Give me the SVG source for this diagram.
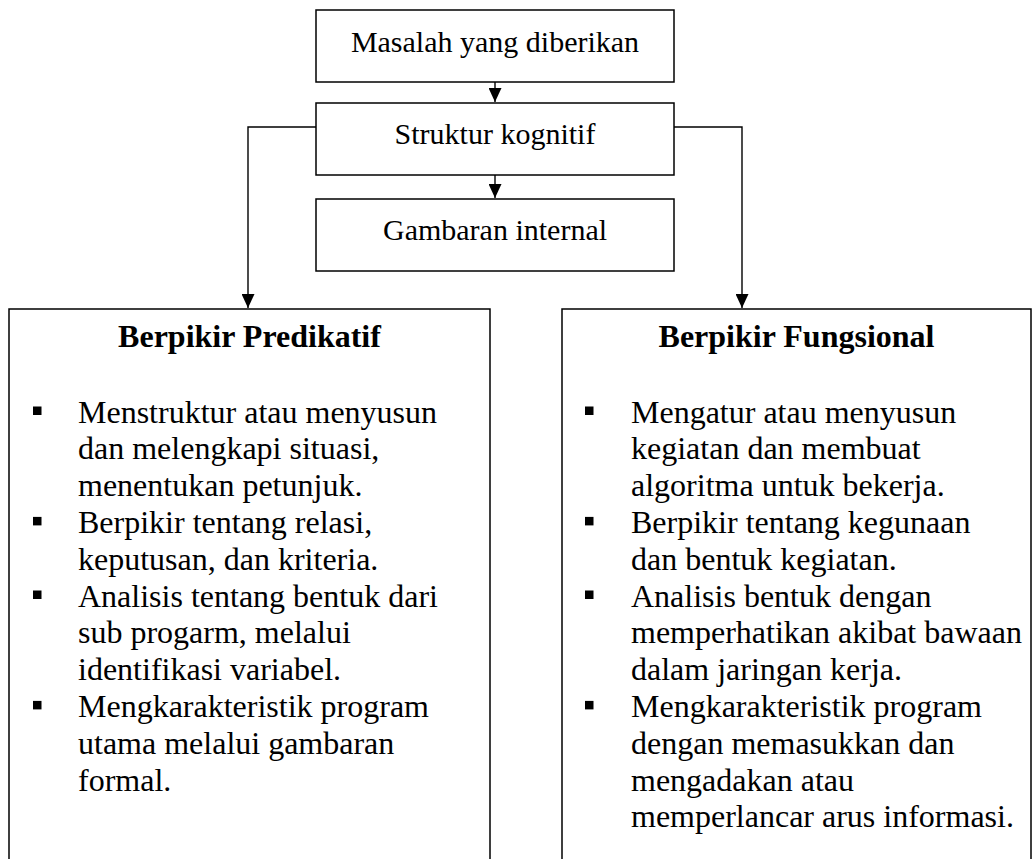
<svg xmlns="http://www.w3.org/2000/svg" width="1033" height="859" viewBox="0 0 1033 859">
<style>
.box{fill:#fff;stroke:#000;stroke-width:1.5}
.open{fill:none;stroke:#000;stroke-width:1.5}
.conn{fill:none;stroke:#000;stroke-width:1.4}
.t{font-family:"Liberation Serif","Times New Roman",serif;font-size:30px;fill:#000;text-anchor:middle}
.h{font-family:"Liberation Serif","Times New Roman",serif;font-size:32px;font-weight:bold;fill:#000;text-anchor:middle}
.b{font-family:"Liberation Serif","Times New Roman",serif;font-size:32px;fill:#000}
.blt{fill:#000}
</style>
<defs>
<marker id="ah" markerWidth="14" markerHeight="13" refX="14" refY="6.5" orient="auto" markerUnits="userSpaceOnUse" viewBox="0 0 14 13">
<path d="M0,0 L14,6.5 L0,13 Z" fill="#000"/>
</marker>
</defs>
<g id="connectors">
<line class="conn" x1="495" y1="82" x2="495" y2="102" marker-end="url(#ah)"/>
<line class="conn" x1="495" y1="175" x2="495" y2="198" marker-end="url(#ah)"/>
<polyline class="conn" points="316,127 248,127 248,308" marker-end="url(#ah)"/>
<polyline class="conn" points="674,127 742,127 742,308" marker-end="url(#ah)"/>
</g>
<g id="node-masalah">
<rect class="box" x="316" y="10" width="358" height="72"/>
<text class="t" x="495" y="51.5">Masalah yang diberikan</text>
</g>
<g id="node-struktur">
<rect class="box" x="316" y="103" width="358" height="72"/>
<text class="t" x="495" y="143.5">Struktur kognitif</text>
</g>
<g id="node-gambaran">
<rect class="box" x="316" y="199" width="358" height="72"/>
<text class="t" x="495" y="239.5">Gambaran internal</text>
</g>
<g id="node-predikatif">
<path class="open" d="M9,870 V309 H490 V870"/>
<text class="h" x="249.5" y="347">Berpikir Predikatif</text>
<rect class="blt" x="33" y="406.5" width="8.5" height="8.5"/>
<rect class="blt" x="33" y="516.9" width="8.5" height="8.5"/>
<rect class="blt" x="33" y="590.5" width="8.5" height="8.5"/>
<rect class="blt" x="33" y="700.9" width="8.5" height="8.5"/>
<text class="b" x="78">
<tspan x="78" y="422.5">Menstruktur atau menyusun</tspan>
<tspan x="78" y="459.3">dan melengkapi situasi,</tspan>
<tspan x="78" y="496.1">menentukan petunjuk.</tspan>
<tspan x="78" y="532.9">Berpikir tentang relasi,</tspan>
<tspan x="78" y="569.7">keputusan, dan kriteria.</tspan>
<tspan x="78" y="606.5">Analisis tentang bentuk dari</tspan>
<tspan x="78" y="643.3">sub progarm, melalui</tspan>
<tspan x="78" y="680.1">identifikasi variabel.</tspan>
<tspan x="78" y="716.9">Mengkarakteristik program</tspan>
<tspan x="78" y="753.7">utama melalui gambaran</tspan>
<tspan x="78" y="790.5">formal.</tspan>
</text>
</g>
<g id="node-fungsional">
<path class="open" d="M562,870 V309 H1031 V870"/>
<text class="h" x="796.5" y="347">Berpikir Fungsional</text>
<rect class="blt" x="585" y="406.5" width="8.5" height="8.5"/>
<rect class="blt" x="585" y="516.9" width="8.5" height="8.5"/>
<rect class="blt" x="585" y="590.5" width="8.5" height="8.5"/>
<rect class="blt" x="585" y="700.9" width="8.5" height="8.5"/>
<text class="b" x="631">
<tspan x="631" y="422.5">Mengatur atau menyusun</tspan>
<tspan x="631" y="459.3">kegiatan dan membuat</tspan>
<tspan x="631" y="496.1">algoritma untuk bekerja.</tspan>
<tspan x="631" y="532.9">Berpikir tentang kegunaan</tspan>
<tspan x="631" y="569.7">dan bentuk kegiatan.</tspan>
<tspan x="631" y="606.5">Analisis bentuk dengan</tspan>
<tspan x="631" y="643.3">memperhatikan akibat bawaan</tspan>
<tspan x="631" y="680.1">dalam jaringan kerja.</tspan>
<tspan x="631" y="716.9">Mengkarakteristik program</tspan>
<tspan x="631" y="753.7">dengan memasukkan dan</tspan>
<tspan x="631" y="790.5">mengadakan atau</tspan>
<tspan x="631" y="827.3">memperlancar arus informasi.</tspan>
</text>
</g>
</svg>
